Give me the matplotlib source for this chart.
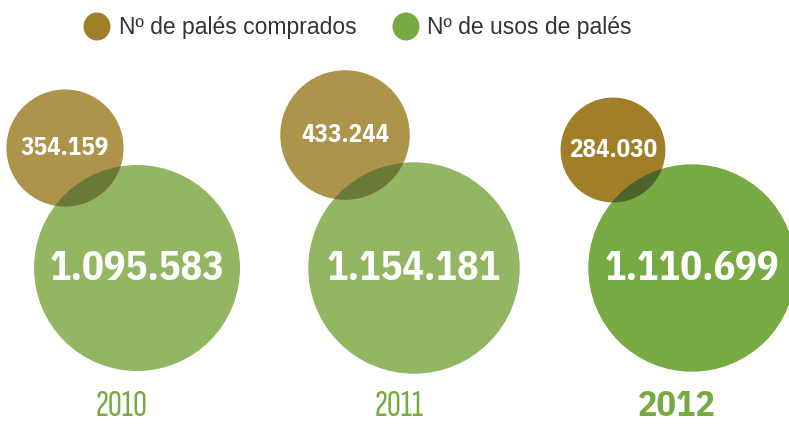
import matplotlib.pyplot as plt
from matplotlib.patches import Circle, Ellipse
import numpy as np

# data
years = ['2010', '2011', '2012']
compras = [354159, 433244, 284030]      # Nº de palés comprados
usos = [1095583, 1154181, 1110699]      # Nº de usos de palés
labels_compras = ['354.159', '433.244', '284.030']
labels_usos = ['1.095.583', '1.154.181', '1.110.699']

# layout (pixel coords, y down)
big_x = [137, 414, 692]
big_y = 268
small_dx = [-72, -69, -79]
small_dy = [-120, -133, -118]
k = 0.0984  # px radius per sqrt(value)

c_small = ['#AE944B', '#AE944B', '#A07F28']
c_big = ['#93B663', '#93B663', '#77AA43']
c_both = ['#6A7A36', '#6A7A36', '#4D632E']
green = '#78AA44'
gold = '#A07F28'

num_font = ['IBM Plex Sans Condensed', 'DejaVu Sans']
year_font = ['Sofia Sans Extra Condensed', 'IBM Plex Sans Condensed', 'DejaVu Sans']
plt.rcParams['font.family'] = ['Liberation Sans', 'DejaVu Sans']

fig = plt.figure(figsize=(7.89, 4.25), dpi=100)
ax = fig.add_axes([0, 0, 1, 1])
ax.set_xlim(0, 789)
ax.set_ylim(425, 0)
ax.set_aspect('equal')
ax.axis('off')

for i in range(3):
    rb = k * np.sqrt(usos[i])
    rs = k * np.sqrt(compras[i])
    sx = big_x[i] + small_dx[i]
    sy = big_y + small_dy[i]
    big = Circle((big_x[i], big_y), rb, color=c_big[i], lw=0)
    ax.add_patch(big)
    ax.add_patch(Circle((sx, sy), rs, color=c_small[i], lw=0))
    both = Circle((sx, sy), rs, color=c_both[i], lw=0)
    ax.add_patch(both)
    both.set_clip_path(big)
    ax.text(big_x[i], big_y + 1, labels_usos[i], color='white', fontsize=29,
            fontweight='bold', ha='center', va='center', family=num_font)
    ax.text(sx, sy, labels_compras[i], color='white', fontsize=18,
            fontweight='bold', ha='center', va='center', family=num_font)
    if i == 2:
        ax.text(big_x[i] - 15, 416, years[i], color=green, fontsize=26,
                fontweight='bold', ha='center', va='baseline', family=num_font)
    else:
        ax.text(big_x[i] - 15, 416, years[i], color=green, fontsize=28,
                ha='center', va='baseline', family=year_font)

# legend
ax.add_patch(Ellipse((97, 26.5), 27, 28, color=gold, lw=0))
ax.text(119, 27, 'Nº de palés comprados', fontsize=16.5, color='#333333', va='center')
ax.add_patch(Ellipse((406, 26.5), 27, 28, color=green, lw=0))
ax.text(427, 27, 'Nº de usos de palés', fontsize=16.5, color='#333333', va='center')

fig.savefig('out.png', dpi=100)
